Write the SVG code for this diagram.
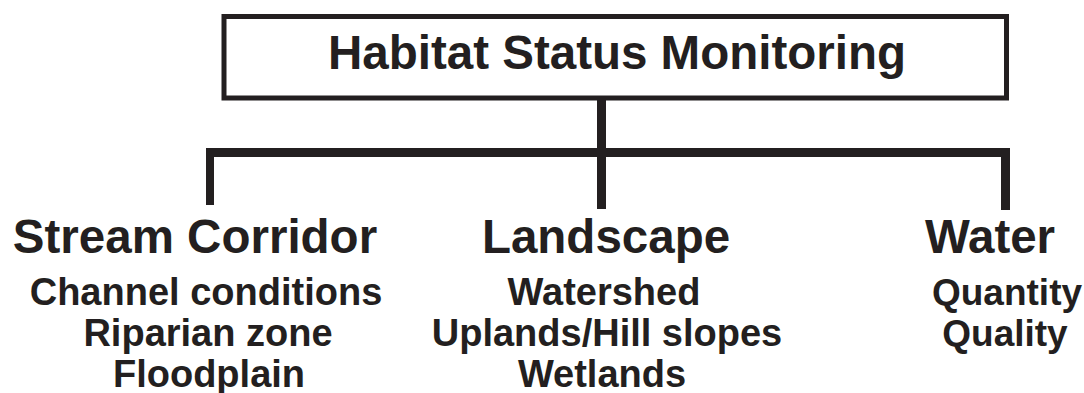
<svg xmlns="http://www.w3.org/2000/svg" width="1084" height="393" viewBox="0 0 1084 393">
<style>
text{font-family:"Liberation Sans",Arial,sans-serif;font-weight:bold;fill:#231f20;text-anchor:middle}
.h{font-size:47.5px}
.s{font-size:38px}
.t{font-size:48px}
.ln{fill:#231f20;stroke:none}
</style>
<rect x="0" y="0" width="1084" height="393" fill="#ffffff"/>
<g id="connectors">
<rect class="ln" x="597" y="99" width="9" height="110"/>
<rect class="ln" x="206" y="148" width="804" height="9"/>
<rect class="ln" x="206" y="148" width="8" height="57"/>
<rect class="ln" x="1001" y="148" width="9" height="62"/>
</g>
<g id="root">
<rect x="224" y="16.5" width="782.5" height="81.5" fill="#ffffff" stroke="#231f20" stroke-width="5"/>
<text class="t" x="617" y="69" textLength="578" lengthAdjust="spacingAndGlyphs">Habitat Status Monitoring</text>
</g>
<g id="stream">
<text class="h" x="195" y="253">Stream Corridor</text>
<text class="s" x="206" y="305">Channel conditions</text>
<text class="s" x="208" y="346">Riparian zone</text>
<text class="s" x="209" y="387">Floodplain</text>
</g>
<g id="landscape">
<text class="h" x="606" y="253">Landscape</text>
<text class="s" x="604" y="305">Watershed</text>
<text class="s" x="607" y="346">Uplands/Hill slopes</text>
<text class="s" x="602" y="387">Wetlands</text>
</g>
<g id="water">
<text class="h" x="990" y="253">Water</text>
<text class="s" x="1007" y="305" style="font-size:37px">Quantity</text>
<text class="s" x="1005" y="346" style="font-size:37px">Quality</text>
</g>
</svg>
